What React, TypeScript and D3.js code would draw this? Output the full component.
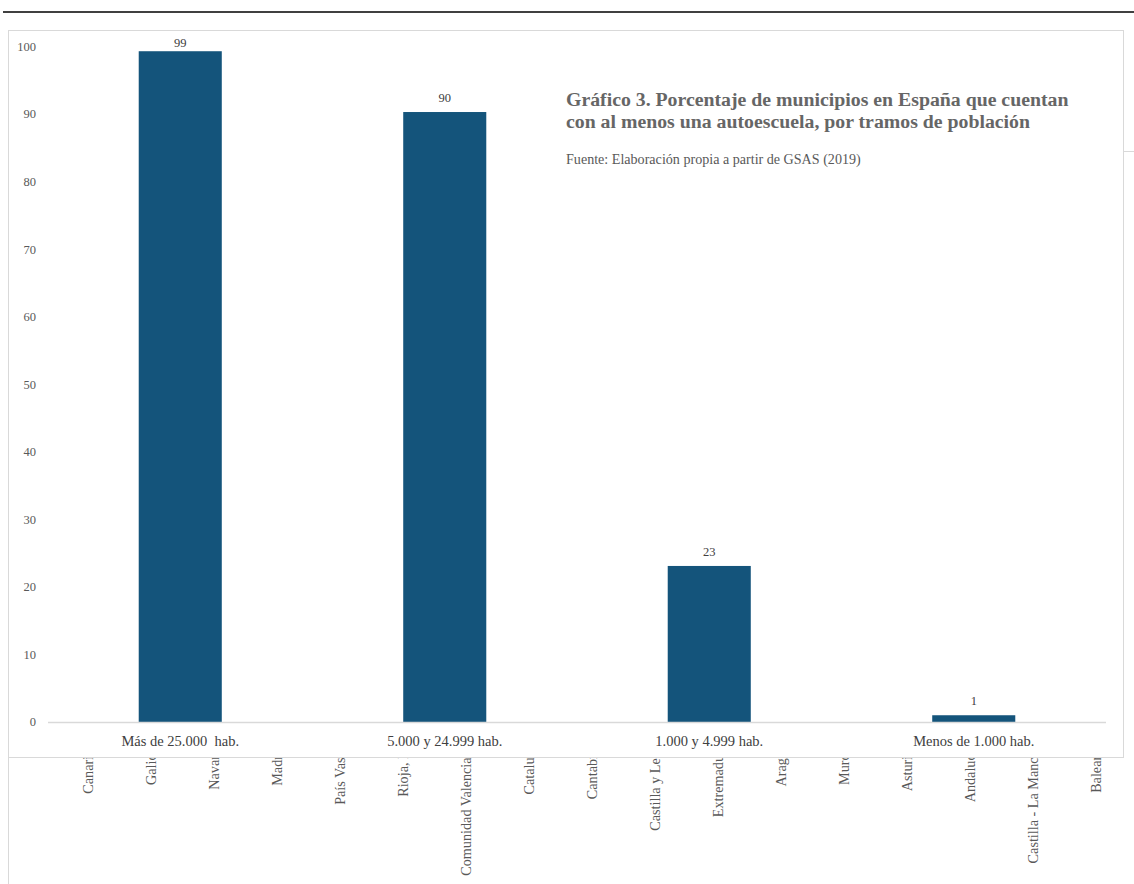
import React from "react";
import * as d3 from "d3";

const categories = ["Más de 25.000  hab.", "5.000 y 24.999 hab.", "1.000 y 4.999 hab.", "Menos de 1.000 hab."];
const values = [99.3, 90.3, 23.1, 1.0];
const yTicks = [0, 10, 20, 30, 40, 50, 60, 70, 80, 90, 100];
const regions = [
  "Canarias", "Galicia", "Navarra", "Madrid", "País Vasco", "Rioja, La",
  "Comunidad Valenciana", "Cataluña", "Cantabria", "Castilla y León",
  "Extremadura", "Aragón", "Murcia", "Asturias", "Andalucía",
  "Castilla - La Mancha", "Baleares",
];
const titleLines = [
  "Gráfico 3. Porcentaje de municipios en España que cuentan",
  "con al menos una autoescuela, por tramos de población",
];
const source = "Fuente: Elaboración propia a partir de GSAS (2019)";

const W = 1134;
const H = 884;
const FONT = "'Liberation Serif', 'DejaVu Serif', serif";

export default function App() {
  const x = d3.scaleBand<string>().domain(categories).range([48, 1106]).paddingInner(0.686).paddingOuter(0.343);
  const y = d3.scaleLinear().domain([0, 100]).range([722, 46.5]);
  const rx = d3.scalePoint<string>().domain(regions).range([88, 1096]);
  const fmt = d3.format(".0f");

  return (
    <svg width={W} height={H} style={{ position: "absolute", left: 0, top: 0, background: "#fff" }}>
      {/* background hidden chart */}
      <line x1={8.5} x2={8.5} y1={30} y2={H} stroke="#d9d9d9" />
      <line x1={1123} x2={W} y1={151.5} y2={151.5} stroke="#d9d9d9" />
      {regions.map((r) => (
        <text
          key={r}
          transform={`translate(${rx(r)! + 5},744) rotate(-90)`}
          textAnchor="end"
          fontFamily={FONT}
          fontSize={14.2}
          fill="#595959"
        >
          {r}
        </text>
      ))}
      {/* top rule */}
      <line x1={3} x2={W} y1={12} y2={12} stroke="#000" strokeWidth={1.5} />
      {/* main panel */}
      <rect x={8.5} y={30.5} width={1115} height={727} fill="#fff" stroke="#d9d9d9" />
      {/* y tick labels */}
      {yTicks.map((t) => (
        <text key={t} x={36} y={y(t)} dy="0.35em" textAnchor="end" fontFamily={FONT} fontSize={12.5} fill="#595959">
          {t}
        </text>
      ))}
      {/* bars */}
      {categories.map((c, i) => (
        <g key={c}>
          <rect x={x(c)} y={y(values[i])} width={x.bandwidth()} height={y(0) - y(values[i])} fill="#14547b" />
          <text
            x={x(c)! + x.bandwidth() / 2}
            y={Math.max(y(values[i]) - 10, 47)}
            textAnchor="middle"
            fontFamily={FONT}
            fontSize={12.5}
            fill="#404040"
          >
            {fmt(values[i])}
          </text>
          <text
            x={x(c)! + x.bandwidth() / 2}
            y={746}
            textAnchor="middle"
            fontFamily={FONT}
            fontSize={14.5}
            fill="#404040"
            style={{ whiteSpace: "pre" }}
          >
            {c}
          </text>
        </g>
      ))}
      <line x1={48} x2={1106} y1={722.5} y2={722.5} stroke="#d9d9d9" strokeWidth={1.5} />
      {/* title */}
      {titleLines.map((l, i) => (
        <text key={i} x={566} y={106 + i * 22} fontFamily={FONT} fontSize={19.8} fontWeight="bold" fill="#666">
          {l}
        </text>
      ))}
      <text x={566} y={164} fontFamily={FONT} fontSize={14.1} fill="#595959">
        {source}
      </text>
    </svg>
  );
}
